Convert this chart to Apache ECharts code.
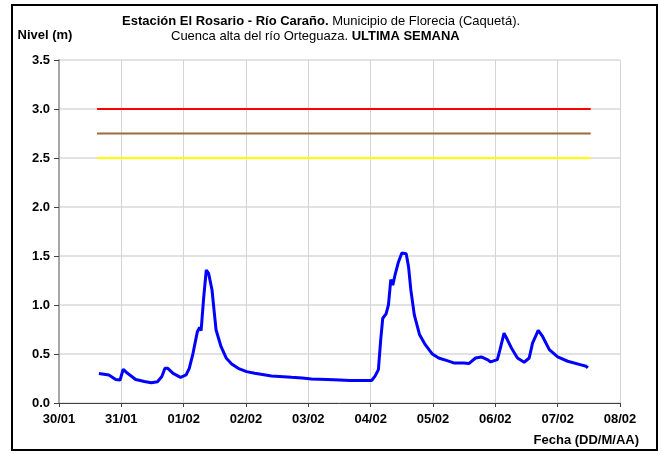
<!DOCTYPE html>
<html>
<head>
<meta charset="utf-8">
<script src="https://cdn.jsdelivr.net/npm/echarts@6/dist/echarts.min.js"></script>
<style>
  html, body { margin: 0; padding: 0; background: #fff; }
  #chart { width: 661px; height: 455px; }
</style>
</head>
<body>
<div id="chart"></div>
<script>
// eje x: dias contados desde 30/01 00:00
const etiquetasFecha = ['30/01', '31/01', '01/02', '02/02', '03/02', '04/02', '05/02', '06/02', '07/02', '08/02'];

const dias = [
  0.64, 0.80, 0.91, 0.98, 1.03, 1.10, 1.23, 1.37, 1.48, 1.58,
  1.65, 1.70, 1.745, 1.83, 1.95, 2.04, 2.09, 2.15, 2.22, 2.255,
  2.28, 2.32, 2.363, 2.40, 2.455, 2.49, 2.52, 2.60, 2.685, 2.77, 2.874,
  3.01, 3.14, 3.41, 3.73, 3.9, 4.05, 4.3, 4.5, 4.667, 5.016,
  5.07, 5.124, 5.161, 5.194, 5.247, 5.285, 5.323, 5.355, 5.39, 5.446,
  5.50, 5.57, 5.608, 5.645, 5.70, 5.785, 5.876, 5.984, 6.09, 6.226,
  6.333, 6.495, 6.575, 6.683, 6.774, 6.871, 6.925, 7.032, 7.075, 7.14,
  7.194, 7.258, 7.355, 7.462, 7.543, 7.597, 7.688, 7.758, 7.866, 8.0,
  8.161, 8.376, 8.457, 8.484
];
const nivel = [
  0.30, 0.286, 0.24, 0.235, 0.344, 0.303, 0.24, 0.22, 0.207, 0.217,
  0.27, 0.354, 0.354, 0.303, 0.262, 0.286, 0.354, 0.507, 0.728, 0.772,
  0.738, 1.068, 1.357, 1.323, 1.153, 0.93, 0.745, 0.574, 0.456, 0.398, 0.354,
  0.32, 0.303, 0.276, 0.262, 0.255, 0.245, 0.24, 0.235, 0.23, 0.23,
  0.274, 0.341, 0.645, 0.865, 0.909, 1.0, 1.26, 1.203, 1.304, 1.439,
  1.53, 1.524, 1.389, 1.152, 0.899, 0.696, 0.595, 0.503, 0.459, 0.432,
  0.409, 0.409, 0.402, 0.459, 0.47, 0.443, 0.419, 0.443, 0.544, 0.713,
  0.645, 0.561, 0.459, 0.416, 0.459, 0.611, 0.74, 0.679, 0.544, 0.47,
  0.426, 0.389, 0.375, 0.358
];

// niveles de alerta (roja, naranja, amarilla)
const umbrales = [3.0, 2.75, 2.5];
const umbralColores = ['#ff0000', '#9c6b3c', '#ffff00'];
const umbralDesde = 0.61;
const umbralHasta = 8.53;

const FONT = '"Liberation Sans", Arial, sans-serif';

const serieNivel = {
  type: 'line',
  data: dias.map((d, i) => [d, nivel[i]]),
  symbol: 'none',
  lineStyle: { color: '#0000ff', width: 3 },
  z: 5
};

const seriesUmbral = umbrales.map((u, i) => ({
  type: 'line',
  data: [[umbralDesde, u], [umbralHasta, u]],
  symbol: 'none',
  lineStyle: { color: umbralColores[i], width: 2 },
  z: 3
}));

const option = {
  backgroundColor: '#fff',
  animation: false,
  textStyle: { fontFamily: FONT },
  title: [
    {
      text: '{b|Estación El Rosario - Río Caraño.} Municipio de Florecia (Caquetá).',
      left: 117, top: 10,
      textStyle: {
        fontSize: 13, fontWeight: 'normal', color: '#000', fontFamily: FONT,
        rich: { b: { fontSize: 13, fontWeight: 'bold', color: '#000', fontFamily: FONT } }
      }
    },
    {
      text: 'Cuenca alta del río Orteguaza. {b|ULTIMA SEMANA}',
      left: 166, top: 25,
      textStyle: {
        fontSize: 13, fontWeight: 'normal', color: '#000', fontFamily: FONT,
        rich: { b: { fontSize: 13, fontWeight: 'bold', color: '#000', fontFamily: FONT } }
      }
    },
    {
      text: 'Fecha (DD/M/AA)',
      right: 17, top: 429,
      textStyle: { fontSize: 13, fontWeight: 'bold', color: '#000', fontFamily: FONT }
    }
  ],
  graphic: [{
    type: 'rect',
    shape: { x: 12, y: 5, width: 645, height: 445 },
    style: { fill: 'none', stroke: '#000', lineWidth: 2 },
    silent: true
  }],
  grid: { left: 59, right: 41, top: 60, bottom: 52 },
  xAxis: {
    type: 'value',
    min: 0, max: 9, interval: 1,
    axisLine: { onZero: false, lineStyle: { color: '#404040', width: 1 } },
    axisTick: { show: true, length: 4, lineStyle: { color: '#404040' } },
    splitLine: { show: true, lineStyle: { color: '#d4d4d4', width: 1 } },
    axisLabel: {
      formatter: v => etiquetasFecha[Math.round(v)],
      color: '#000', fontWeight: 'bold', fontSize: 13, margin: 10, fontFamily: FONT
    }
  },
  yAxis: {
    type: 'value',
    min: 0, max: 3.5, interval: 0.5,
    name: 'Nivel (m)',
    nameLocation: 'end',
    nameGap: 18,
    nameTextStyle: {
      color: '#000', fontWeight: 'bold', fontSize: 13, fontFamily: FONT,
      padding: [0, 28, 0, 0]
    },
    axisLine: { show: true, lineStyle: { color: '#a6a6a6', width: 2 } },
    axisTick: { show: true, length: 5, lineStyle: { color: '#404040' } },
    splitLine: { show: true, lineStyle: { color: '#d9d9d9', width: 1.5 } },
    axisLabel: {
      formatter: v => v.toFixed(1),
      color: '#000', fontWeight: 'bold', fontSize: 13, margin: 9, fontFamily: FONT
    }
  },
  series: [...seriesUmbral, serieNivel]
};

const chart = echarts.init(document.getElementById('chart'));
chart.setOption(option);
</script>
</body>
</html>
